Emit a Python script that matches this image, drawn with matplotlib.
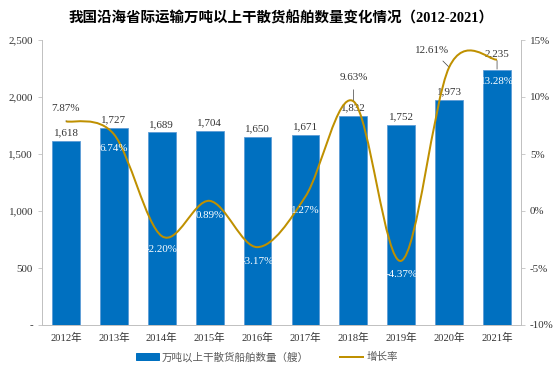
import matplotlib
matplotlib.use("Agg")
import matplotlib.pyplot as plt
from matplotlib.path import Path
from matplotlib.patches import PathPatch
from matplotlib.ticker import FixedLocator, FuncFormatter

plt.rcParams['font.family'] = ['Liberation Serif', 'Noto Sans CJK SC']

years = ["2012年", "2013年", "2014年", "2015年", "2016年",
         "2017年", "2018年", "2019年", "2020年", "2021年"]
ships = [1618, 1727, 1689, 1704, 1650, 1671, 1832, 1752, 1973, 2235]
growth = [7.87, 6.74, -2.20, 0.89, -3.17, 1.27, 9.63, -4.37, 12.61, 13.28]

title = "我国沿海省际运输万吨以上干散货船舶数量变化情况（2012-2021）"
bar_name = "万吨以上干散货船舶数量（艘）"
line_name = "增长率"

blue = "#0070C0"
gold = "#BF9000"
grey = "#BFBFBF"
txt = "#333333"

# dpi 72 -> 1 point == 1 pixel
fig = plt.figure(figsize=(556 / 72, 367 / 72), dpi=72)
ax = fig.add_axes([42 / 556, 1 - 325 / 367, (521 - 42) / 556, (325 - 40) / 367])
ax2 = ax.twinx()

x = list(range(len(years)))
ax.bar(x, ships, width=0.58, color=blue, edgecolor="#5B9BD5", linewidth=0.8, zorder=2)
ax.set_xlim(-0.5, len(years) - 0.5)
ax.set_ylim(0, 2500)
ax2.set_ylim(-10, 15)

ax.yaxis.set_major_locator(FixedLocator([0, 500, 1000, 1500, 2000, 2500]))
ax.yaxis.set_major_formatter(FuncFormatter(lambda v, p: "-" if v == 0 else f"{v:,.0f}"))
ax2.yaxis.set_major_locator(FixedLocator([-10, -5, 0, 5, 10, 15]))
ax2.yaxis.set_major_formatter(FuncFormatter(lambda v, p: f"{v:.0f}%"))

ax.set_xticks(x)
ax.set_xticklabels(years)
ax.tick_params(axis="x", length=0, pad=8, labelsize=10.5, colors=txt)
ax.tick_params(axis="y", length=4, color=grey, labelsize=11, labelcolor=txt, pad=5)
ax2.tick_params(axis="y", length=4, color=grey, labelsize=11, labelcolor=txt, pad=5)
for a in (ax, ax2):
    a.spines["top"].set_visible(False)
    for s in ("left", "right", "bottom"):
        a.spines[s].set_color(grey)

# smoothed growth line (Catmull-Rom style bezier through the data points)
pts = list(zip(x, growth))
verts = [pts[0]]
codes = [Path.MOVETO]
for i in range(len(pts) - 1):
    p0 = pts[i - 1] if i > 0 else pts[i]
    p1 = pts[i]
    p2 = pts[i + 1]
    p3 = pts[i + 2] if i + 2 < len(pts) else pts[i + 1]
    c1 = (p1[0] + (p2[0] - p0[0]) / 6, p1[1] + (p2[1] - p0[1]) / 6)
    c2 = (p2[0] - (p3[0] - p1[0]) / 6, p2[1] - (p3[1] - p1[1]) / 6)
    verts += [c1, c2, p2]
    codes += [Path.CURVE4] * 3
ax2.add_patch(PathPatch(Path(verts, codes), facecolor="none", edgecolor=gold, linewidth=2, zorder=3))

# bar value labels
for i, v in enumerate(ships):
    dy = 16 if i == 9 else 8
    ax.annotate(f"{v:,}", (i, v), xytext=(0, dy), textcoords="offset points",
                ha="center", va="center", fontsize=11, color=txt)

# growth labels: (dx, dy, color, leader)
lab = [(0, 13, txt, True), (0, -14, "white", False), (0, -13, "white", False),
       (0, -15, "white", False), (0, -14, "white", False), (0, -14, "white", False),
       (0, 24, txt, True), (0, -14, "white", False), (-17, 17, txt, True),
       (0, -22, "white", True)]
for i, g in enumerate(growth):
    dx, dy, c, leader = lab[i]
    ap = dict(arrowstyle="-", color="#404040", lw=0.7, shrinkA=6, shrinkB=1) if leader else None
    ax2.annotate(f"{g:.2f}%", (i, g), xytext=(dx, dy), textcoords="offset points",
                 ha="center", va="center", fontsize=11, color=c, arrowprops=ap, zorder=4)

fig.text(0.505, 1 - 18 / 367, title, ha="center", va="center", fontsize=14.5,
         fontweight="bold", color="black")

h1 = plt.Rectangle((0, 0), 1, 1, color=blue)
h2 = plt.Line2D([], [], color=gold, lw=2)
fig.legend([h1, h2], [bar_name, line_name], loc="center", bbox_to_anchor=(0.48, 1 - 357 / 367),
           ncol=2, frameon=False, prop={"family": ["Noto Sans CJK SC"], "size": 10.5},
           handlelength=2.2, handleheight=0.6, columnspacing=3, handletextpad=0.3,
           labelcolor="#595959")

fig.savefig("out.png", dpi=72)
